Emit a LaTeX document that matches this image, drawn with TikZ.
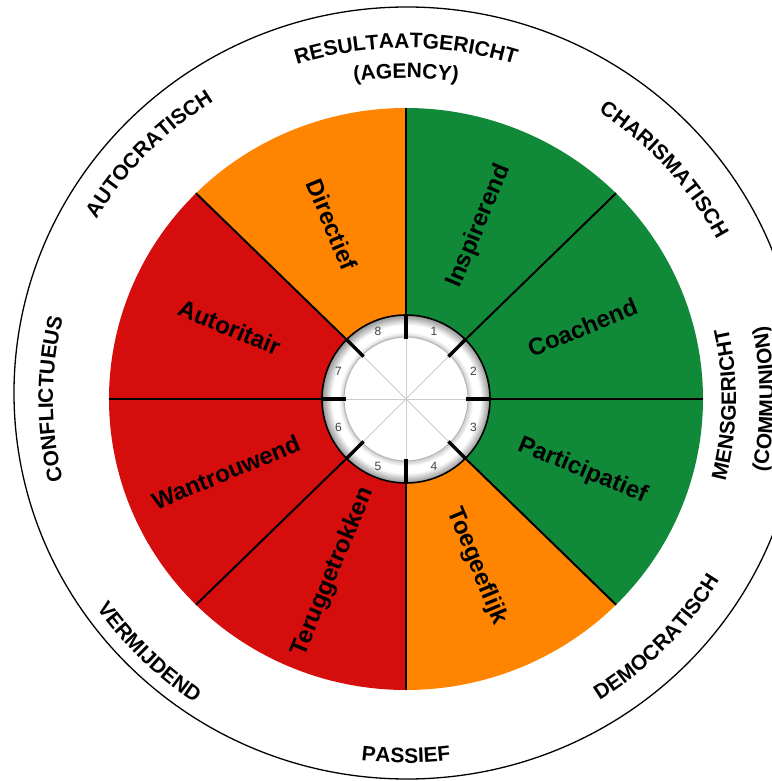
\documentclass[tikz,border=0pt]{standalone}
\usepackage{fontspec}
\setmainfont{Liberation Sans}
\usetikzlibrary{decorations.text}
\definecolor{cgreen}{RGB}{16,138,56}
\definecolor{corange}{RGB}{255,133,0}
\definecolor{cred}{RGB}{213,13,13}
\pgfdeclareradialshading{ringshade}{\pgfpoint{0bp}{0bp}}{color(0bp)=(white); color(18bp)=(white); color(18.6bp)=(black!18); color(20bp)=(white); color(22bp)=(white); color(25bp)=(black!42); color(50bp)=(black!42)}
\newcommand\olabfont{\fontsize{21}{21}\selectfont\bfseries}
\begin{document}
\begin{tikzpicture}[x=1pt,y=1pt,
  lab/.style={font=\fontsize{24}{24}\selectfont\bfseries, inner sep=0pt},
  num/.style={font=\fontsize{12}{12}\selectfont, text=black!75, inner sep=0pt},
  boundary/.style={line width=2pt},
  tick/.style={line width=3.5pt},
  spoke/.style={black!20, line width=0.8pt}]
\useasboundingbox (-406,-382) rectangle (365,399);
\fill[white] (-406,-382) rectangle (365,399);
% outer circle
\draw[line width=1.3pt] (1,6) ellipse[x radius=393, y radius=386];
% sectors
\foreach \a/\c in {45/cgreen, 0/cgreen, -45/cgreen, -90/corange, -135/cred, 180/cred, 135/cred, 90/corange}
  \fill[\c] (0,0) -- (\a:297 and 291) arc[start angle=\a, end angle=\a+45, x radius=297, y radius=291] -- cycle;
\foreach \a in {0,45,...,315}
  \draw[boundary] (\a:84) -- (\a:297 and 291);
% inner ring
\shade[shading=ringshade] (0,0) circle[radius=84];
\draw[line width=1.6pt] (0,0) circle[radius=84];
\filldraw[fill=white, draw=black!28, line width=1.2pt] (0,0) circle[radius=62];
\foreach \a in {0,45,90,135}
  \draw[spoke] (\a:62) -- (\a+180:62);
\foreach \a in {0,45,...,315}
  \draw[tick] (\a:60) -- (\a:85);
\foreach \k [evaluate=\k as \ang using {112.5-45*\k}] in {1,...,8}
  \node[num] (n\k) at (\ang:73) {\k};
% inner labels
\node[lab, rotate=-67.5] (directief) at (112.5:193 and 189) {Directief};
\node[lab, rotate=67.5] (inspirerend) at (67.5:191 and 187) {Inspirerend};
\node[lab, rotate=22.5] (coachend) at (22.5:191 and 187) {Coachend};
\node[lab, rotate=-22.5] (participatief) at (-22.5:191 and 187) {Participatief};
\node[lab, rotate=-67.5] (toegeeflijk) at (-67.5:185 and 181) {Toegeeflijk};
\node[lab, rotate=67.5] (teruggetrokken) at (-112.5:191 and 187) {Teruggetrokken};
\node[lab, rotate=22.5] (wantrouwend) at (202.5:195 and 191) {Wantrouwend};
\node[lab, rotate=-22.5] (autoritair) at (157.5:191 and 187) {Autoritair};
% outer labels
\path[decorate, decoration={text along path, text align=center, text={|\olabfont|RESULTAATGERICHT}}]
  (130:359 and 351) arc[start angle=130, end angle=50, x radius=359, y radius=351];
\path[decorate, decoration={text along path, text align=center, text={|\olabfont|(AGENCY)}}]
  (125:328 and 321) arc[start angle=125, end angle=55, x radius=328, y radius=321];
\path[decorate, decoration={text along path, text align=center, text={|\olabfont|AUTOCRATISCH}}]
  (176:360 and 352) arc[start angle=176, end angle=96, x radius=360, y radius=352];
\path[decorate, decoration={text along path, text align=center, text={|\olabfont|CHARISMATISCH}}]
  (82:351 and 343) arc[start angle=82, end angle=2, x radius=351, y radius=343];
\path[decorate, decoration={text along path, text align=center, text={|\olabfont|MENSGERICHT}}]
  (-41:330 and 323) arc[start angle=-41, end angle=39, x radius=330, y radius=323];
\path[decorate, decoration={text along path, text align=center, text={|\olabfont|(COMMUNION)}}]
  (-40:368 and 360) arc[start angle=-40, end angle=40, x radius=368, y radius=360];
\path[decorate, decoration={text along path, text align=center, text={|\olabfont|DEMOCRATISCH}}]
  (-84:364 and 356) arc[start angle=-84, end angle=-4, x radius=364, y radius=356];
\path[decorate, decoration={text along path, text align=center, text={|\olabfont|PASSIEF}}]
  (-130:372 and 364) arc[start angle=-130, end angle=-50, x radius=372, y radius=364];
\path[decorate, decoration={text along path, text align=center, text={|\olabfont|VERMIJDEND}}]
  (-175:376 and 368) arc[start angle=-175, end angle=-95, x radius=376, y radius=368];
\path[decorate, decoration={text along path, text align=center, text={|\olabfont|CONFLICTUEUS}}]
  (220:353 and 345) arc[start angle=220, end angle=140, x radius=353, y radius=345];
\end{tikzpicture}
\end{document}
